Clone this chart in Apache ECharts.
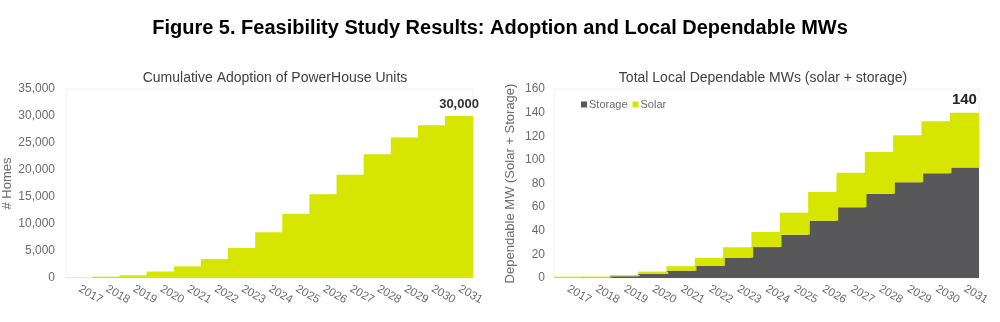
<!DOCTYPE html>
<html>
<head>
<meta charset="utf-8">
<script src="https://cdn.jsdelivr.net/npm/echarts@6/dist/echarts.min.js"></script>
<style>
html,body{margin:0;padding:0;background:#fff;}
#chart{width:1000px;height:322px;}
</style>
</head>
<body>
<div id="chart"></div>
<script>
var years = ['2017','2018','2019','2020','2021','2022','2023','2024','2025','2026','2027','2028','2029','2030','2031'];
var homes = [60, 250, 500, 1200, 2150, 3500, 5550, 8450, 11900, 15500, 19100, 22900, 26000, 28300, 30000];
var storageMW = [0.2, 0.4, 1.5, 3.4, 6.2, 10.2, 17.2, 26.2, 36.7, 48.5, 60, 71.4, 81, 88.7, 93.5];
var solarMW = [1, 0.8, 1, 2, 3.8, 6.8, 8.8, 12.8, 18.6, 24.3, 29, 35.3, 39.8, 43.9, 46.5];
var homesTicks = [0, 35000, 5000];
var mwTicks = [0, 160, 20];

var FONT = '"Liberation Sans", Arial, sans-serif';
var YELLOW = '#d6e600';
var GRAY = '#58585b';
var TXT = '#6b6b6b';

var chart = echarts.init(document.getElementById('chart'), null, {renderer: 'canvas'});

var last = years.length - 1;

var option = {
  backgroundColor: '#fff',
  animation: false,
  textStyle: {fontFamily: FONT},
  title: [
    {text: 'Figure 5. Feasibility Study Results: Adoption and Local Dependable MWs', left: 'center', top: 13,
     textStyle: {fontFamily: FONT, fontSize: 20, fontWeight: 'bold', color: '#000'}},
    {text: 'Cumulative Adoption of PowerHouse Units', left: 270, textAlign: 'center', top: 66,
     textStyle: {fontFamily: FONT, fontSize: 14, fontWeight: 'normal', color: '#404040'}},
    {text: 'Total Local Dependable MWs (solar + storage)', left: 758, textAlign: 'center', top: 66,
     textStyle: {fontFamily: FONT, fontSize: 14, fontWeight: 'normal', color: '#404040'}}
  ],
  legend: {
    data: ['Storage', 'Solar'],
    left: 576, top: 94,
    icon: 'rect', itemWidth: 6, itemHeight: 6, itemGap: 5,
    textStyle: {fontFamily: FONT, fontSize: 11, color: '#6b6b6b', padding: [0, 0, 0, -3]}
  },
  grid: [
    {left: 66, right: 527, top: 89, bottom: 44, show: true, borderColor: '#f2f2f2', borderWidth: 1},
    {left: 554, right: 21, top: 89, bottom: 44, show: true, borderColor: '#f2f2f2', borderWidth: 1}
  ],
  xAxis: [0, 1].map(function (g) {
    return {
      type: 'category', gridIndex: g, data: years,
      axisLine: {show: false}, axisTick: {show: false},
      axisLabel: {interval: 0, rotate: -30, margin: 10, fontSize: 11.5, color: TXT, fontFamily: FONT}
    };
  }),
  yAxis: [
    {type: 'value', gridIndex: 0, min: homesTicks[0], max: homesTicks[1], interval: homesTicks[2],
     name: '# Homes', nameLocation: 'middle', nameGap: 50,
     nameTextStyle: {fontFamily: FONT, fontSize: 13, color: TXT},
     splitLine: {show: false}, axisLine: {show: false}, axisTick: {show: false},
     axisLabel: {fontSize: 12, color: TXT, margin: 11, fontFamily: FONT,
       formatter: function (v) { return v.toLocaleString('en-US'); }}},
    {type: 'value', gridIndex: 1, min: mwTicks[0], max: mwTicks[1], interval: mwTicks[2],
     name: 'Dependable MW (Solar + Storage)', nameLocation: 'middle', nameGap: 37,
     nameTextStyle: {fontFamily: FONT, fontSize: 13, color: TXT},
     splitLine: {show: false}, axisLine: {show: false}, axisTick: {show: false},
     axisLabel: {fontSize: 12, color: TXT, margin: 9, fontFamily: FONT}}
  ],
  series: [
    {name: 'Homes', type: 'bar', xAxisIndex: 0, yAxisIndex: 0, barWidth: '106%',
     itemStyle: {color: YELLOW, borderWidth: 0},
     label: {show: true, position: 'top', distance: 5, fontFamily: FONT, fontSize: 13, fontWeight: 'bold', color: '#333',
       formatter: function (p) { return p.dataIndex === last ? p.value.toLocaleString('en-US') : ''; }},
     data: homes},
    {name: 'Storage', type: 'bar', xAxisIndex: 1, yAxisIndex: 1, stack: 'mw', barWidth: '106%',
     itemStyle: {color: GRAY, borderWidth: 0}, data: storageMW},
    {name: 'Solar', type: 'bar', xAxisIndex: 1, yAxisIndex: 1, stack: 'mw', barWidth: '106%',
     itemStyle: {color: YELLOW, borderWidth: 0},
     label: {show: true, position: 'top', distance: 5, fontFamily: FONT, fontSize: 15, fontWeight: 'bold', color: '#222',
       formatter: function (p) { return p.dataIndex === last ? String(Math.round(storageMW[last] + solarMW[last])) : ''; }},
     data: solarMW}
  ]
};
chart.setOption(option);
</script>
</body>
</html>
